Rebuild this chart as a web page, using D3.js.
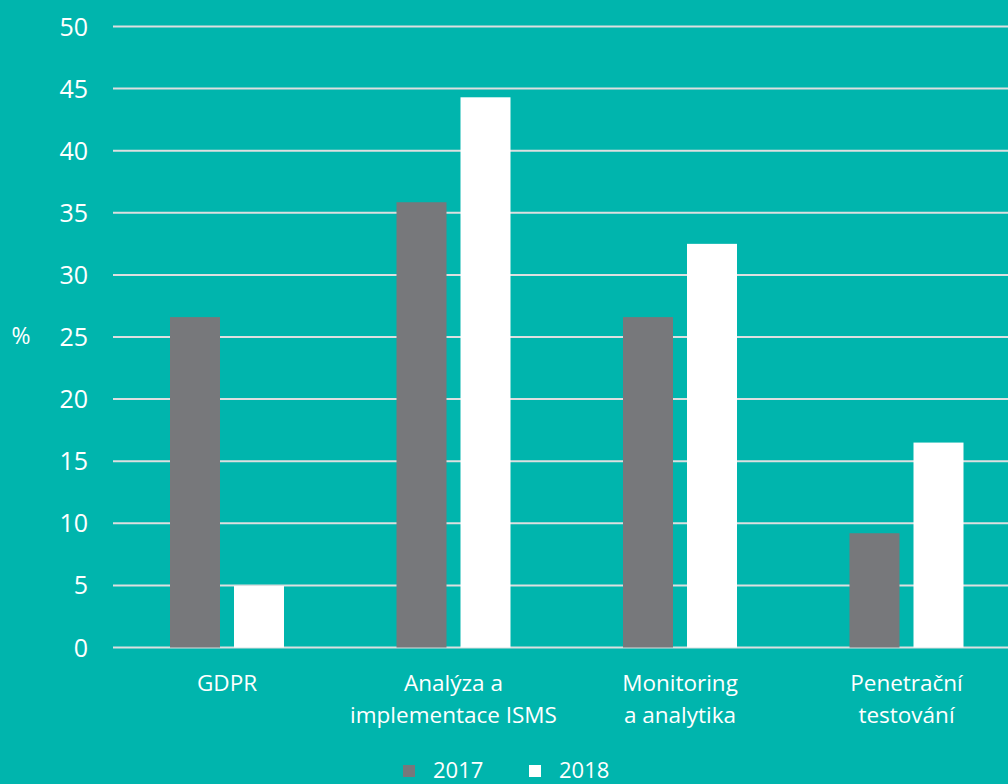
<!DOCTYPE html>
<html><head><meta charset="utf-8">
<script src="https://cdn.jsdelivr.net/npm/d3@7"></script>
<style>
html,body{margin:0;padding:0;background:#00b5ad;}
svg{display:block;}
text{font-family:"Open Sans",Lato,sans-serif;fill:#ffffff;}
</style></head>
<body>
<svg id="chart" width="1008" height="784"></svg>
<script>
const categories = [["GDPR"], ["Analýza a", "implementace ISMS"], ["Monitoring", "a analytika"], ["Penetrační", "testování"]];
const series = ["2017", "2018"];
const values2017 = [26.6, 35.85, 26.6, 9.2];
const values2018 = [4.95, 44.3, 32.5, 16.5];
const yTicks = [0, 5, 10, 15, 20, 25, 30, 35, 40, 45, 50];
const colors = ["#77787b", "#ffffff"];

const svg = d3.select("#chart");
svg.append("rect").attr("width", 1008).attr("height", 784).attr("fill", "#00b5ad");

const y = d3.scaleLinear().domain([0, 50]).range([647.5, 26.5]);
const x0 = d3.scaleBand().domain(d3.range(categories.length)).range([113, 1019]).paddingInner(0).paddingOuter(0);
const x1 = d3.scaleBand().domain(series).range([57, 171]).paddingInner(0.21875);

// gridlines
const grid = svg.append("g");
grid.selectAll("line").data(yTicks).join("line")
  .attr("x1", 113).attr("x2", 1008)
  .attr("y1", d => y(d)).attr("y2", d => y(d))
  .attr("stroke", "#dcdfe0").attr("stroke-width", 2);

// y tick labels
svg.append("g").selectAll("text").data(yTicks).join("text")
  .attr("x", 88).attr("y", d => y(d) + 9)
  .attr("text-anchor", "end").attr("font-size", 25)
  .text(d => d);

svg.append("text").attr("x", 21).attr("y", 344).attr("text-anchor", "middle")
  .attr("font-size", 23).text("%");

// bars
const data = categories.map((c, i) => ({i, vals: [values2017[i], values2018[i]]}));
const groups = svg.append("g").selectAll("g").data(data).join("g")
  .attr("transform", d => `translate(${x0(d.i)},0)`);
groups.selectAll("rect").data(d => d.vals.map((v, k) => ({v, s: series[k], k})))
  .join("rect")
  .attr("x", d => x1(d.s))
  .attr("width", x1.bandwidth())
  .attr("y", d => y(d.v))
  .attr("height", d => y(0) - y(d.v))
  .attr("fill", d => colors[d.k]);

// category labels
const lab = svg.append("g").selectAll("text").data(categories).join("text")
  .attr("text-anchor", "middle").attr("font-size", 22.5)
  .attr("transform", (d, i) => `translate(${x0(i) + 114},691)`);
lab.selectAll("tspan").data(d => d).join("tspan")
  .attr("x", 0).attr("dy", (d, k) => k === 0 ? 0 : 32).text(d => d);

// legend
const legX = [403, 529];
const leg = svg.append("g").selectAll("g").data(series).join("g")
  .attr("transform", (d, k) => `translate(${legX[k]},0)`);
leg.append("rect").attr("x", 0).attr("y", 765).attr("width", 12).attr("height", 12)
  .attr("fill", (d, k) => colors[k]);
leg.append("text").attr("x", 30).attr("y", 778).attr("font-size", 22).text(d => d);
</script>
</body></html>
